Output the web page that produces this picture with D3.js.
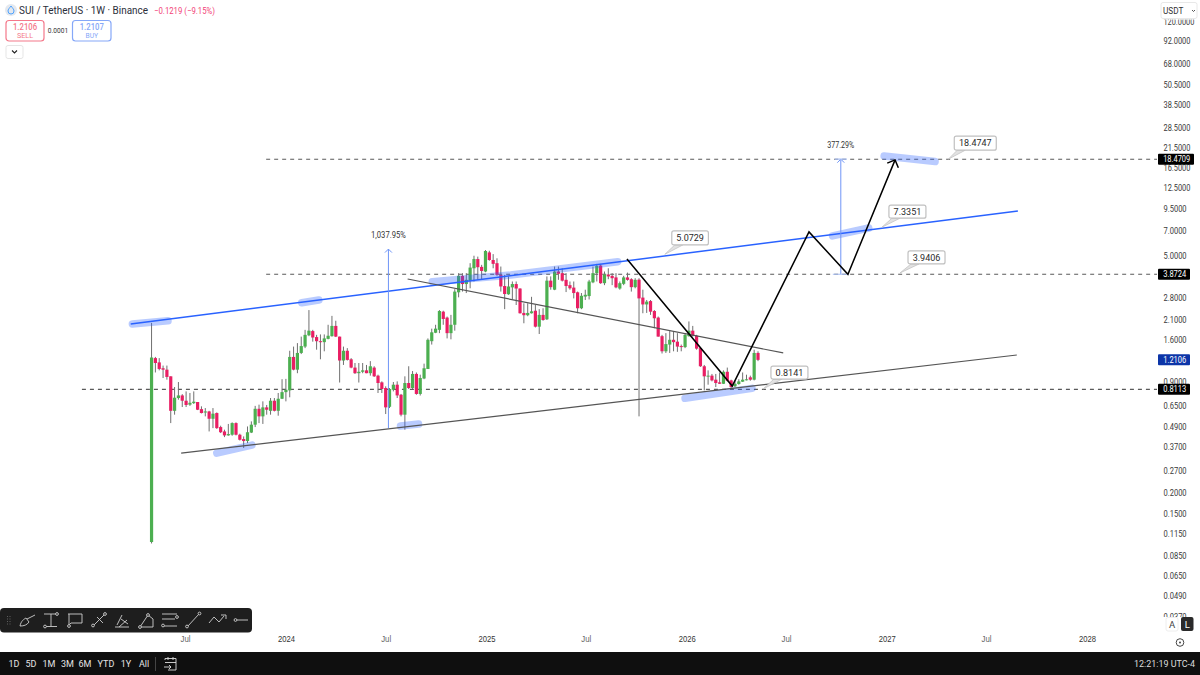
<!DOCTYPE html>
<html><head><meta charset="utf-8">
<script src="https://cdn.jsdelivr.net/npm/d3@7"></script>
<style>
html,body{margin:0;padding:0;background:#fff}
svg{display:block;font-family:Roboto,"Noto Sans",sans-serif}
</style></head><body><svg id="c" width="1200" height="675"></svg>
<script>
// ---------- data: weekly candles as [open, high, low, close] ----------
const firstWeek = "2023-05-01";
const quotes2023 = [
[.102,2.00,.100,1.25],[1.24,1.26,1.02,1.16],[1.17,1.24,1.05,1.07],[1.08,1.12,.946,1.06],[1.06,1.12,.925,.96],
[.968,.968,.513,.606],[.606,.837,.575,.724],[.721,.896,.705,.747],[.747,.76,.638,.695],[.695,.789,.638,.656],
[.659,.772,.648,.676],[.673,.789,.665,.686],[.683,.683,.612,.615],[.62,.644,.585,.588],[.592,.629,.562,.601],
[.601,.606,.458,.544],[.544,.629,.479,.583],[.588,.593,.474,.479],[.486,.495,.448,.453],[.458,.469,.424,.434],
[.434,.507,.432,.442],[.438,.518,.432,.513],[.513,.518,.434,.438],[.438,.444,.405,.409],[.413,.428,.366,.402],
[.402,.49,.391,.453],[.451,.525,.448,.502],[.502,.648,.486,.623],[.623,.659,.513,.562],[.562,.689,.507,.635],
[.635,.656,.575,.615],[.606,.721,.575,.695],[.695,.721,.601,.606],[.606,.772,.567,.714],[.714,.931,.711,.781]];
const quotes2024 = [
[.781,.935,.689,.807],[.80,1.37,.728,1.26],[1.26,1.45,1.05,1.06],[1.06,1.52,1.01,1.33],[1.33,1.66,1.31,1.46],
[1.45,1.82,1.42,1.70],[1.69,2.38,1.67,1.80],[1.79,1.82,1.55,1.64],[1.65,1.70,1.39,1.56],[1.56,1.71,1.22,1.55],
[1.54,1.71,1.36,1.62],[1.61,1.95,1.60,1.68],[1.67,2.20,1.66,1.92],[1.92,2.06,1.65,1.66],[1.66,1.66,.89,1.20],
[1.20,1.45,1.13,1.37],[1.37,1.42,1.20,1.21],[1.22,1.24,1.08,1.09],[1.09,1.16,1.00,1.01],[1.01,1.16,.89,1.03],
[1.03,1.16,1.01,1.05],[1.05,1.13,1.01,1.01],[1.01,1.19,.977,1.11],[1.09,1.11,.96,.968],[.977,.99,.772,.884],
[.892,.904,.772,.815],[.826,.845,.58,.635],[.64,.826,.629,.815],[.807,.896,.789,.864],[.864,.904,.721,.747],
[.754,.762,.562,.575],[.575,.968,.469,.884],[.884,1.11,.815,.826],[.826,1.04,.815,1.00],[1.00,1.02,.754,.762],
[.762,.99,.746,.946],[.94,1.15,.931,1.08],[1.07,1.62,1.07,1.59],[1.56,1.85,1.49,1.76],[1.75,1.95,1.74,1.85],
[1.82,2.38,1.74,2.35],[2.33,2.36,1.95,2.11],[2.15,2.18,1.62,1.74],[1.74,2.23,1.60,1.95],[1.95,3.16,1.80,3.06],
[3.03,3.93,2.83,3.79],[3.79,3.93,3.06,3.39],[3.39,3.93,3.00,3.59],[3.55,4.50,3.20,4.24],[4.20,4.98,3.51,4.76],
[4.76,4.92,3.59,4.26],[4.28,4.40,3.59,4.05],[4.02,5.38,3.98,5.31]];
const quotes2025 = [
[5.21,5.33,4.65,4.70],[4.70,5.09,4.20,4.46],[4.50,4.81,3.79,3.84],[3.84,4.30,3.06,3.28],[3.30,3.84,2.41,2.96],
[2.95,3.76,2.93,3.28],[3.24,3.51,2.75,3.39],[3.39,3.51,2.55,3.19],[3.19,3.20,2.27,2.28],[2.29,2.61,1.99,2.22],
[2.22,2.61,2.19,2.29],[2.28,2.85,2.27,2.34],[2.36,2.55,1.88,1.90],[1.90,2.41,1.72,2.23],[2.23,2.44,2.06,2.08],
[2.10,3.76,2.08,3.55],[3.55,3.76,3.14,3.25],[3.14,4.30,3.12,4.02],[4.02,4.30,3.59,3.90],[3.93,4.20,3.51,3.55],
[3.59,3.93,3.04,3.30],[3.34,3.51,3.14,3.20],[3.23,3.51,2.79,3.00],[3.03,3.06,2.28,2.44],[2.44,3.00,2.41,2.89],
[2.86,3.14,2.73,2.93],[2.88,3.59,2.75,3.51],[3.47,4.30,3.43,3.93],[3.93,4.46,3.51,4.34],[4.36,4.46,3.40,3.43],
[3.43,4.02,3.34,3.86],[3.86,4.20,3.62,3.76],[3.79,3.93,3.34,3.67],[3.71,3.93,3.20,3.24],[3.19,3.51,3.14,3.43],
[3.40,3.79,3.34,3.71],[3.71,3.96,3.55,3.59],[3.62,3.67,3.06,3.25],[3.25,3.67,3.20,3.59],[3.60,3.67,.562,2.79],
[2.82,3.14,2.28,2.57],[2.57,2.73,2.29,2.67],[2.69,2.73,2.23,2.33],[2.35,2.38,1.86,2.13],[2.15,2.18,1.66,1.66],
[1.67,1.70,1.32,1.36],[1.36,1.74,1.33,1.50],[1.49,1.79,1.33,1.59],[1.59,1.78,1.36,1.54],[1.55,1.74,1.35,1.45],
[1.46,1.49,1.36,1.44],[1.44,1.74,1.42,1.70]];
const quotes2026 = [
[1.67,2.04,1.66,1.80],[1.80,1.92,1.66,1.68],[1.68,1.70,1.39,1.41],[1.42,1.42,1.10,1.11],[1.11,1.13,.80,.968],
[.968,1.05,.864,.977],[.977,1.00,.904,.916],[.925,1.00,.837,.884],[.892,1.02,.872,.875],[.875,1.05,.872,1.03],
[1.03,1.09,.904,.912],[.916,.925,.815,.837],[.845,.916,.837,.875],[.872,.931,.864,.904],[.90,1.02,.896,.925],
[.92,.99,.916,.93],[.955,.977,.912,.925],[.925,1.39,.916,1.33],[1.33,1.36,1.19,1.2106]];

// ---------- data: axes ----------
const priceTicks = [120,92,68,50.5,38.5,28.5,21.5,16.5,12.5,9.5,7,5,2.8,2.1,1.6,0.9,0.65,0.49,0.37,0.27,0.2,0.15,0.115,0.085,0.065,0.049,0.037];
const timeTicks = ["2023-07-01","2024-01-01","2024-07-01","2025-01-01","2025-07-01","2026-01-01","2026-07-01","2027-01-01","2027-07-01","2028-01-01"];
const timeLabels = ["Jul","2024","Jul","2025","Jul","2026","Jul","2027","Jul","2028"];
const rangeButtons = ["1D","5D","1M","3M","6M","YTD","1Y","All"];

// ---------- data: drawings as [date, price] ----------
const upperChannel = [["2023-03-24",1.97],["2027-08-28",9.15]];
const lowerChannel = [["2023-06-24",.341],["2027-08-26",1.293]];
const midTrend = [["2024-08-10",3.63],["2026-06-26",1.33]];
const projection = [["2025-09-14",4.76],["2026-03-25",.848],["2026-08-12",6.88],["2026-10-22",3.8724],["2027-01-16",18.3]];
const levels = [{p:18.4709,from:"2023-11-26"},{p:3.8724,from:"2023-11-26"},{p:.8113,from:"2022-12-25"}];
const measures = [{d:"2024-07-06",a:.4793,b:5.45,t:"1,037.95%"},{d:"2026-10-09",a:3.8724,b:18.48,t:"377.29%"}];
const highlights = [
 [["2023-03-27",1.97],["2023-05-31",2.06]],
 [["2024-01-30",2.63],["2024-03-01",2.73]],
 [["2023-08-28",.341],["2023-10-31",.38]],
 [["2024-07-28",.493],["2024-08-30",.506]],
 [["2024-09-24",3.50],["2025-02-14",3.83],["2025-08-28",4.59]],
 [["2025-12-29",.718],["2026-04-30",.822]],
 [["2026-09-24",6.52],["2026-11-29",7.26]],
 [["2026-12-27",19.3],["2027-03-30",17.9]]];
const callouts = [
 {d:"2025-11-22",p:5.0729},{d:"2026-12-23",p:7.3351},{d:"2027-04-23",p:18.4747},{d:"2027-01-25",p:3.9406},{d:"2026-05-20",p:.8141}];
const calloutOffsets = [[7,-23.4,36.6,14],[7,-22,37,13],[6,-23,42,14],[8,-22,37,13],[8,-23,37,13]];
const priceTags = [{p:18.4709,c:"#000"},{p:3.8724,c:"#000"},{p:.8113,c:"#000"},{p:1.2106,c:"#0c35a8"}];

// ---------- scales ----------
const parse = d3.utcParse("%Y-%m-%d");
const x = d3.scaleUtc().domain([parse("2023-07-01"),parse("2028-01-01")]).range([185,1087]);
const y = d3.scaleLog().domain([0.049,92]).range([596,41]);
const fmt = d3.format(".4f");
const charW = 3.85;
const svg = d3.select("#c");
const candles = [...quotes2023,...quotes2024,...quotes2025,...quotes2026].map((q,i)=>({
  date:d3.utcMonday.offset(parse(firstWeek),i),o:q[0],h:q[1],l:q[2],c:q[3]}));
const GREEN="#4caf50",PINK="#e91e63",BLUE="#2962ff";
const line = d3.line().x(d=>x(parse(d[0]))).y(d=>y(d[1]));

svg.append("rect").attr("width",1200).attr("height",675).attr("fill","#fff");

// dashed levels
svg.append("g").selectAll("line").data(levels).join("line")
  .attr("x1",d=>x(parse(d.from))).attr("x2",1157).attr("y1",d=>y(d.p)).attr("y2",d=>y(d.p))
  .attr("stroke","#5a5a5a").attr("stroke-width",1.1).attr("stroke-dasharray","4 4");

// candles
const gc = svg.append("g");
gc.selectAll("line").data(candles).join("line")
  .attr("x1",d=>x(d.date)).attr("x2",d=>x(d.date)).attr("y1",d=>y(d.h)).attr("y2",d=>y(d.l))
  .attr("stroke","#707070").attr("stroke-width",1);
gc.selectAll("rect").data(candles).join("rect")
  .attr("x",d=>x(d.date)-1.6).attr("width",3.2)
  .attr("y",d=>y(Math.max(d.o,d.c))).attr("height",d=>Math.max(1,Math.abs(y(d.o)-y(d.c))))
  .attr("fill",d=>d.c>=d.o?GREEN:PINK);

// highlighter strokes
svg.append("g").selectAll("path").data(highlights).join("path")
  .attr("d",line).attr("fill","none").attr("stroke",BLUE).attr("stroke-opacity",.33).attr("stroke-width",7.5).attr("stroke-linecap","round").attr("stroke-linejoin","round");

// trend lines
svg.append("path").attr("d",line(upperChannel)).attr("fill","none").attr("stroke",BLUE).attr("stroke-width",1.5);
svg.append("path").attr("d",line(lowerChannel)).attr("fill","none").attr("stroke","#555").attr("stroke-width",1.2);
svg.append("path").attr("d",line(midTrend)).attr("fill","none").attr("stroke","#555").attr("stroke-width",1.2);

// measure arrows
const gm = svg.append("g").selectAll("g").data(measures).join("g");
gm.append("line").attr("x1",d=>x(parse(d.d))).attr("x2",d=>x(parse(d.d))).attr("y1",d=>y(d.a)).attr("y2",d=>y(d.b))
  .attr("stroke","#6f95f7").attr("stroke-width",1);
gm.append("path").attr("d",d=>{const X=x(parse(d.d)),Y=y(d.b);return `M${X-3.5},${Y+3.5}L${X},${Y}L${X+3.5},${Y+3.5}`;})
  .attr("fill","none").attr("stroke","#6f95f7").attr("stroke-width",1);
gm.filter((d,i)=>i==1).append("path").attr("d",d=>{const X=x(parse(d.d)),A=y(d.a),B=y(d.b);return `M${X-8},${A}H${X+8}M${X-6},${B}H${X+6}`;})
  .attr("stroke","#a9c0f5").attr("stroke-width",1.2);
gm.append("text").attr("x",d=>x(parse(d.d))).attr("y",d=>y(d.b)-11).attr("text-anchor","middle")
  .attr("font-size",8.5).attr("fill","#333").attr("textLength",d=>d.t.length*charW).attr("lengthAdjust","spacingAndGlyphs").text(d=>d.t);

// projection path
svg.append("defs").append("marker").attr("id","head").attr("viewBox","-10 -8 12 16").attr("markerUnits","userSpaceOnUse")
  .attr("markerWidth",12).attr("markerHeight",16).attr("orient","auto").attr("refX",0).attr("refY",0)
  .append("path").attr("d","M-6,-6L0,0L-6,6").attr("fill","none").attr("stroke","#000").attr("stroke-width",1.5);
svg.append("path").attr("d",line(projection)).attr("fill","none").attr("stroke","#000").attr("stroke-width",1.5)
  .attr("stroke-linejoin","miter").attr("marker-end","url(#head)");

// callouts
const gl = svg.append("g").selectAll("g").data(callouts).join("g")
  .attr("transform",d=>`translate(${x(parse(d.d))},${y(d.p)})`);
gl.append("path").attr("d",(d,i)=>{const o=calloutOffsets[i],b=o[1]+o[3];return `M0,0L${o[0]+3},${b}H${o[0]+11}Z`;})
  .attr("fill","#e2e2e2").attr("stroke","#c4c4c4").attr("stroke-width",.8);
gl.append("rect").attr("x",(d,i)=>calloutOffsets[i][0]).attr("y",(d,i)=>calloutOffsets[i][1])
  .attr("width",(d,i)=>calloutOffsets[i][2]).attr("height",(d,i)=>calloutOffsets[i][3]).attr("rx",2)
  .attr("fill","#fff").attr("stroke","#c0c0c0").attr("stroke-width",1.2);
gl.append("text").attr("x",(d,i)=>calloutOffsets[i][0]+calloutOffsets[i][2]/2).attr("y",(d,i)=>calloutOffsets[i][1]+calloutOffsets[i][3]/2+3.2)
  .attr("text-anchor","middle").attr("font-size",9).attr("fill","#2a2a2a").text(d=>fmt(d.p));

// right axis
const ay = svg.append("g").attr("transform","translate(1163.5,0)")
  .call(d3.axisRight(y).tickValues(priceTicks).tickFormat(fmt).tickSize(0).tickPadding(0));
ay.select(".domain").remove();
ay.selectAll("text").attr("font-size",8.8).attr("fill","#3a3a3a").attr("font-family","Roboto,sans-serif")
  .attr("textLength",d=>fmt(d).length*charW).attr("lengthAdjust","spacingAndGlyphs");
svg.append("rect").attr("x",1155).attr("y",0).attr("width",45).attr("height",19.5).attr("fill","#fff");
svg.append("rect").attr("x",1155).attr("y",617).attr("width",45).attr("height",36).attr("fill","#fff");

// price tags
const gt = svg.append("g").selectAll("g").data(priceTags).join("g").attr("transform",d=>`translate(1158,${y(d.p)})`);
gt.append("rect").attr("y",-5.5).attr("height",11).attr("rx",1).attr("width",d=>d.p>10?36:32).attr("fill",d=>d.c);
gt.append("text").attr("x",5.2).attr("y",3.1).attr("font-size",8.8).attr("fill","#fff")
  .attr("textLength",d=>fmt(d.p).length*charW).attr("lengthAdjust","spacingAndGlyphs").text(d=>fmt(d.p));

// time axis
const ax = svg.append("g").attr("transform","translate(0,636)")
  .call(d3.axisBottom(x).tickValues(timeTicks.map(parse)).tickFormat((d,i)=>timeLabels[i]).tickSize(0).tickPadding(0));
ax.select(".domain").remove();
ax.selectAll("text").attr("font-size",8.8).attr("fill",(d,i)=>timeLabels[i]=="Jul"?"#666":"#333")
  .attr("font-weight",(d,i)=>timeLabels[i]=="Jul"?400:500)
  .attr("textLength",(d,i)=>timeLabels[i]=="Jul"?10:17).attr("lengthAdjust","spacingAndGlyphs");

// header
const head = svg.append("g");
head.append("circle").attr("cx",11).attr("cy",10).attr("r",6).attr("fill","#e4e8ee");
head.append("path").attr("d","M11,6C12.5,8 14,9.5 14,11A3,3 0 0 1 8,11C8,9.5 9.5,8 11,6Z").attr("fill","none").attr("stroke","#4da2ff").attr("stroke-width",1);
head.append("text").attr("x",19).attr("y",14).attr("font-size",10.2).attr("fill","#2a2e39").attr("textLength",129).attr("lengthAdjust","spacingAndGlyphs").text("SUI / TetherUS · 1W · Binance");
head.append("text").attr("x",154).attr("y",13.5).attr("font-size",8.8).attr("fill","#f23f78").attr("textLength",61).attr("lengthAdjust","spacingAndGlyphs").text("−0.1219 (−9.15%)");
function tradeBox(X,W,c,v,t,tw){
  head.append("rect").attr("x",X).attr("y",20.5).attr("width",W).attr("height",20.5).attr("rx",3).attr("fill","#fff").attr("stroke",c).attr("stroke-width",1.2);
  head.append("text").attr("x",X+W/2).attr("y",29.5).attr("text-anchor","middle").attr("font-size",9).attr("fill",c).attr("font-weight",500).attr("textLength",24).attr("lengthAdjust","spacingAndGlyphs").text(v);
  head.append("text").attr("x",X+W/2).attr("y",38.2).attr("text-anchor","middle").attr("font-size",8).attr("fill",c).attr("textLength",tw).attr("lengthAdjust","spacingAndGlyphs").text(t);
}
tradeBox(6,38,"#f4788a","1.2106","SELL",16);
tradeBox(72.5,38.5,"#86a8f8","1.2107","BUY",12.5);
head.append("text").attr("x",58).attr("y",33).attr("text-anchor","middle").attr("font-size",6.6).attr("fill","#333").text("0.0001");
head.append("rect").attr("x",6).attr("y",45.5).attr("width",17).attr("height",13).attr("rx",2).attr("fill","#fff").attr("stroke","#e5e5e5");
head.append("path").attr("d","M12,50.5L14.5,53L17,50.5").attr("fill","none").attr("stroke","#222").attr("stroke-width",1.1);

// currency button
svg.append("rect").attr("x",1161).attr("y",2.5).attr("width",36).attr("height",16).attr("rx",2).attr("fill","#fff").attr("stroke","#e8e8e8");
svg.append("text").attr("x",1163).attr("y",13.5).attr("font-size",8.2).attr("fill","#333").text("USDT");
svg.append("path").attr("d","M1192,10L1193.5,11.5L1195,10").attr("fill","none").attr("stroke","#444").attr("stroke-width",.9);

// A / L / settings
svg.append("rect").attr("x",1166).attr("y",617.5).attr("width",12).attr("height",13.5).attr("rx",2).attr("fill","#fff").attr("stroke","#eee");
svg.append("text").attr("x",1172).attr("y",628).attr("text-anchor","middle").attr("font-size",9.5).attr("fill","#444").text("A");
svg.append("rect").attr("x",1181).attr("y",617).attr("width",12.5).attr("height",14).attr("rx",2).attr("fill","#2a2a2a");
svg.append("text").attr("x",1187.2).attr("y",628).attr("text-anchor","middle").attr("font-size",9.5).attr("fill","#fff").text("L");
svg.append("circle").attr("cx",1180).attr("cy",642.5).attr("r",3.8).attr("fill","none").attr("stroke","#444");
svg.append("circle").attr("cx",1180).attr("cy",642.5).attr("r",1).attr("fill","#444");

// bottom bar
svg.append("rect").attr("y",652).attr("width",1200).attr("height",23).attr("fill","#0f0f0f");
const btnX=[14,31,49,67.5,85,106,126,144];
svg.append("g").selectAll("text").data(rangeButtons).join("text")
  .attr("x",(d,i)=>btnX[i]).attr("y",667).attr("text-anchor","middle").attr("font-size",9).attr("fill","#e4e4e4").text(d=>d);
svg.append("line").attr("x1",155.5).attr("x2",155.5).attr("y1",657).attr("y2",671).attr("stroke","#444");
svg.append("path").attr("d","M165,660V658.5H176V670H168M165,662.5H176M168,657V660M173,657V660M164,667H171M169,665L171,667L169,669").attr("fill","none").attr("stroke","#ddd").attr("stroke-width",.9);
svg.append("text").attr("x",1195).attr("y",667).attr("text-anchor","end").attr("font-size",9.4).attr("fill","#ddd").attr("textLength",61).attr("lengthAdjust","spacingAndGlyphs").text("12:21:19 UTC-4");

// drawing toolbar
svg.append("rect").attr("x",0).attr("y",608).attr("width",252).attr("height",24.5).attr("rx",4).attr("fill","#1e1e1e");
const tb = svg.append("g").attr("fill","none").attr("stroke","#cfcfcf").attr("stroke-width",.9);
tb.append("path").attr("stroke","#666").attr("stroke-dasharray","1 1.5").attr("d","M7.5,616V625M10,616V625");
const icons=[
 "M20,626C21,621 24,619 26,618L29,622C27,625 24,626 20,626ZM27,619L35,615",
 "M44,614H56M51,614V626M46,626.5H57",
 "M68,614H82V623H71L69,625V614",
 "M94,625L105,614M97,617L103,623",
 "M115,627H129M117,625L122,615M121,619L128,624M119,627L127,620",
 "M140,627L148,615L153,619V627Z",
 "M162,614H177M162,619H175M164,626H177",
 "M188,626L199,614",
 "M209,623L214,617L219,622L224,616M221,615H226V619",
 "M237,620H248"];
icons.forEach(d=>tb.append("path").attr("d",d));
const dots=[[57,614],[45,626.5],[69,626],[93,625.5],[105,614],[140,627],[148,615],[177,617],[163,625.5],[187,626.5],[199.5,613.5],[235.5,620]];
tb.selectAll("circle").data(dots).join("circle").attr("cx",d=>d[0]).attr("cy",d=>d[1]).attr("r",1.4).attr("fill","#1e1e1e");
</script></body></html>
